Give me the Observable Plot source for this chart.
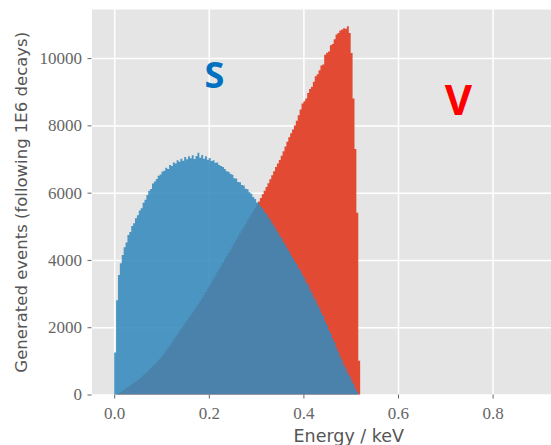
<!DOCTYPE html>
<html>
<head>
<meta charset="utf-8">
<script src="https://cdn.jsdelivr.net/npm/d3@7"></script>
<script src="https://cdn.jsdelivr.net/npm/@observablehq/plot@0.6"></script>
<style>
  html, body { margin: 0; padding: 0; background: white; }
</style>
</head>
<body>
<div id="chart"></div>
<script>
// Histogram bins (keV)
const binWidth = 0.004;
const energyStart = 0;

// S spectrum (blue), counts per bin
const sValues = [
  1250, 2800, 3550, 3900, 4150, 4380, 4520, 4740, 4830, 5010,
  5090, 5240, 5330, 5470, 5540, 5700, 5790, 5930, 6060, 6110,
  6270, 6330, 6410, 6500, 6540, 6630, 6650, 6740, 6700, 6820,
  6790, 6900, 6870, 6960, 6920, 7010, 6950, 7060, 6990, 7080,
  7020, 7110, 7000, 7090, 7190, 7040, 7120, 7010, 7080, 6980,
  7030, 6940, 6960, 6890, 6900, 6820, 6790, 6760, 6700, 6640,
  6620, 6560, 6530, 6430, 6420, 6320, 6310, 6230, 6210, 6120,
  6100, 6010, 5970, 5870, 5810, 5710, 5670, 5580, 5530, 5420,
  5370, 5260, 5200, 5090, 5020, 4910, 4830, 4720, 4650, 4530,
  4450, 4340, 4260, 4140, 4060, 3950, 3870, 3750, 3680, 3560,
  3470, 3340, 3260, 3120, 3020, 2890, 2800, 2670, 2570, 2430,
  2330, 2180, 2070, 1920, 1810, 1660, 1550, 1390, 1270, 1120,
  1010, 870, 770, 640, 550, 420, 320, 180, 90, 0
];

// V spectrum (red), counts per bin
const vValues = [
  0, 15, 45, 75, 110, 150, 190, 230, 270, 310,
  350, 390, 430, 475, 520, 570, 625, 680, 735, 790,
  845, 900, 960, 1020, 1085, 1155, 1225, 1300, 1380, 1460,
  1540, 1625, 1710, 1790, 1880, 1960, 2040, 2120, 2200, 2280,
  2360, 2440, 2520, 2610, 2700, 2780, 2870, 2960, 3050, 3140,
  3240, 3340, 3440, 3530, 3630, 3730, 3820, 3920, 4020, 4110,
  4210, 4300, 4400, 4500, 4600, 4690, 4790, 4880, 4970, 5070,
  5170, 5260, 5360, 5450, 5550, 5650, 5740, 5840, 5950, 6060,
  6170, 6280, 6400, 6520, 6640, 6760, 6870, 6970, 7100, 7230,
  7370, 7510, 7650, 7770, 7880, 8000, 8140, 8300, 8470, 8650,
  8720, 8800, 8960, 9080, 9150, 9300, 9460, 9520, 9640, 9780,
  9810, 10100, 10160, 10200, 10380, 10420, 10560, 10700, 10750, 10820,
  10850, 10890, 10870, 10950, 10750, 10150, 8800, 7300, 5400, 1000
];

const xTicks = [0, 0.2, 0.4, 0.6, 0.8];
const yTicks = [0, 2000, 4000, 6000, 8000, 10000];
const xLabel = "Energy / keV";
const yLabel = "Generated events (following 1E6 decays)";
const sLabel = [{text: "S", energy: 0.211, count: 9465}];
const vLabel = [{text: "V", energy: 0.7266, count: 8722}];

const toSteps = (vals) => [
  ...vals.map((v, i) => ({energy: energyStart + i * binWidth, count: v})),
  {energy: energyStart + vals.length * binWidth, count: 0}
];

const chart = Plot.plot({
  width: 551,
  height: 445,
  marginLeft: 91.5,
  marginRight: 0,
  marginTop: 9,
  marginBottom: 50.5,
  x: {domain: [-0.048, 0.9235]},
  y: {domain: [0, 11460]},
  style: {fontFamily: "Liberation Serif", fontSize: "17px", background: "white"},
  marks: [
    Plot.frame({fill: "#E5E5E5", stroke: null}),
    Plot.gridX(xTicks, {stroke: "white", strokeOpacity: 1, strokeWidth: 1.5}),
    Plot.gridY(yTicks, {stroke: "white", strokeOpacity: 1, strokeWidth: 1.5}),
    Plot.areaY(toSteps(vValues), {x: "energy", y: "count", curve: "step-after", fill: "#E24A33"}),
    Plot.areaY(toSteps(sValues), {x: "energy", y: "count", curve: "step-after", fill: "#348ABD", fillOpacity: 0.88}),
    Plot.axisX(xTicks, {tickFormat: d3.format(".1f"), tickSize: 4, tickPadding: 8, color: "#666", fontSize: 17, label: null}),
    Plot.axisY(yTicks, {tickFormat: d3.format("d"), tickSize: 4, tickPadding: 6, color: "#666", fontSize: 17, label: null}),
    Plot.text([xLabel], {text: d => d, frameAnchor: "bottom", textAnchor: "middle", dx: 27, dy: 46.5, fontFamily: "DejaVu Sans", fontSize: 17.5, fill: "#555"}),
    Plot.text([yLabel], {text: d => d, frameAnchor: "left", textAnchor: "middle", rotate: -90, dx: -70.5, fontFamily: "DejaVu Sans", fontSize: 16.5, fill: "#555"}),
    Plot.text(sLabel, {x: "energy", y: "count", text: "text", fill: "#0070C0", fontFamily: "Open Sans", fontWeight: "bold", fontSize: 36}),
    Plot.text(vLabel, {x: "energy", y: "count", text: "text", fill: "#FF0000", fontFamily: "Open Sans", fontWeight: "bold", fontSize: 42})
  ]
});
document.getElementById("chart").appendChild(chart);
</script>
</body>
</html>
